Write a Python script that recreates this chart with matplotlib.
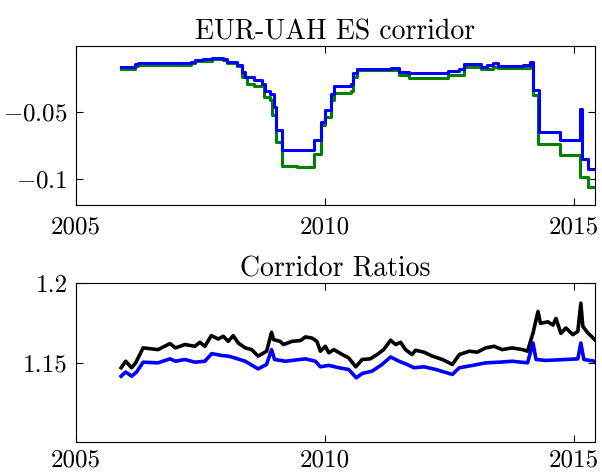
import matplotlib
matplotlib.use("Agg")
import matplotlib.pyplot as plt

plt.rcParams['font.family'] = ['cmr10', 'DejaVu Serif']
plt.rcParams['mathtext.fontset'] = 'cm'
plt.rcParams['axes.unicode_minus'] = True

# top panel: ES corridor (step series)
t_green = [2005.91, 2006.18, 2006.25, 2007.32, 2007.39, 2007.73, 2007.96, 2008.03, 2008.23,
           2008.33, 2008.43, 2008.57, 2008.77, 2008.90, 2008.94, 2009.01, 2009.13, 2009.45,
           2009.78, 2009.93, 2010.01, 2010.13, 2010.18, 2010.52, 2010.56, 2010.65, 2011.49,
           2011.69, 2012.47, 2012.80, 2013.14, 2013.37, 2013.47, 2014.11, 2014.17, 2014.28,
           2014.73, 2015.13, 2015.29, 2015.42]
v_green = [-0.0170, -0.0152, -0.0140, -0.0128, -0.0114, -0.0095, -0.0105, -0.0130, -0.0152,
           -0.0232, -0.0283, -0.0303, -0.0384, -0.0409, -0.0523, -0.0725, -0.0902, -0.0910,
           -0.0813, -0.0599, -0.0536, -0.0409, -0.0354, -0.0339, -0.0232, -0.0182, -0.0220,
           -0.0240, -0.0217, -0.0162, -0.0175, -0.0155, -0.0164, -0.0144, -0.0371, -0.0738,
           -0.0819, -0.0990, -0.1066, -0.1066]

t_blue = [2005.91, 2006.18, 2006.25, 2006.80, 2007.32, 2007.39, 2007.55, 2007.73, 2007.96,
          2008.03, 2008.23, 2008.33, 2008.40, 2008.57, 2008.74, 2008.80, 2008.90, 2008.97,
          2009.01, 2009.14, 2009.78, 2009.93, 2010.01, 2010.13, 2010.18, 2010.52, 2010.56,
          2010.65, 2011.32, 2011.49, 2011.69, 2012.30, 2012.47, 2012.70, 2012.80, 2013.14,
          2013.25, 2013.37, 2013.47, 2013.98, 2014.11, 2014.17, 2014.30, 2014.73, 2015.12,
          2015.16, 2015.29, 2015.42]
v_blue = [-0.0157, -0.0139, -0.0129, -0.0125, -0.0119, -0.0106, -0.0097, -0.0089, -0.0099,
          -0.0124, -0.0144, -0.0195, -0.0237, -0.0258, -0.0283, -0.0341, -0.0359, -0.0460,
          -0.0637, -0.0788, -0.0707, -0.0574, -0.0485, -0.0359, -0.0303, -0.0290, -0.0207,
          -0.0174, -0.0169, -0.0195, -0.0207, -0.0200, -0.0187, -0.0177, -0.0139, -0.0162,
          -0.0145, -0.0131, -0.0149, -0.0140, -0.0124, -0.0333, -0.0649, -0.0707, -0.0472,
          -0.0851, -0.0927, -0.0927]

# bottom panel: corridor ratios
t_ratio_k = [2005.91, 2006.00, 2006.12, 2006.20, 2006.35, 2006.65, 2006.89, 2007.00, 2007.19,
             2007.39, 2007.49, 2007.59, 2007.72, 2007.86, 2007.96, 2008.06, 2008.16, 2008.26,
             2008.40, 2008.53, 2008.66, 2008.83, 2008.93, 2008.97, 2009.10, 2009.17, 2009.34,
             2009.51, 2009.61, 2009.74, 2009.84, 2009.91, 2010.01, 2010.08, 2010.18, 2010.35,
             2010.48, 2010.62, 2010.75, 2010.91, 2011.05, 2011.18, 2011.32, 2011.42, 2011.52,
             2011.62, 2011.75, 2011.82, 2011.99, 2012.16, 2012.36, 2012.56, 2012.70, 2012.90,
             2013.06, 2013.23, 2013.40, 2013.56, 2013.76, 2013.97, 2014.07, 2014.18, 2014.28,
             2014.33, 2014.48, 2014.58, 2014.64, 2014.74, 2014.84, 2014.98, 2015.08, 2015.14,
             2015.18, 2015.28, 2015.42]
r_black = [1.1467, 1.1508, 1.1467, 1.1497, 1.1592, 1.1581, 1.1619, 1.1592, 1.1613,
           1.1602, 1.1627, 1.1602, 1.1669, 1.1648, 1.1665, 1.1633, 1.1669, 1.1623,
           1.1592, 1.1581, 1.1540, 1.1571, 1.1690, 1.1644, 1.1633, 1.1613, 1.1633,
           1.1638, 1.1661, 1.1654, 1.1633, 1.1571, 1.1602, 1.1561, 1.1581, 1.1550,
           1.1529, 1.1473, 1.1519, 1.1523, 1.1550, 1.1581, 1.1640, 1.1613, 1.1627,
           1.1581, 1.1550, 1.1577, 1.1565, 1.1540, 1.1519, 1.1488, 1.1550, 1.1571,
           1.1565, 1.1592, 1.1602, 1.1581, 1.1592, 1.1581, 1.1571, 1.1686, 1.1821,
           1.1746, 1.1756, 1.1735, 1.1777, 1.1683, 1.1717, 1.1675, 1.1696, 1.1873,
           1.1727, 1.1686, 1.1644]

t_ratio_b = [2005.91, 2006.00, 2006.12, 2006.22, 2006.35, 2006.65, 2006.89, 2007.00, 2007.19,
             2007.39, 2007.59, 2007.73, 2007.93, 2008.06, 2008.19, 2008.40, 2008.66, 2008.83,
             2008.93, 2008.99, 2009.21, 2009.61, 2009.81, 2009.91, 2010.08, 2010.28, 2010.48,
             2010.63, 2010.75, 2010.95, 2011.15, 2011.32, 2011.49, 2011.65, 2011.79, 2011.99,
             2012.23, 2012.56, 2012.70, 2012.97, 2013.23, 2013.50, 2013.76, 2014.07, 2014.18,
             2014.24, 2014.44, 2014.84, 2015.08, 2015.14, 2015.20, 2015.42]
r_blue = [1.1414, 1.1440, 1.1414, 1.1440, 1.1502, 1.1498, 1.1523, 1.1508, 1.1519,
          1.1502, 1.1508, 1.1556, 1.1544, 1.1540, 1.1529, 1.1508, 1.1460, 1.1488,
          1.1581, 1.1519, 1.1508, 1.1523, 1.1508, 1.1473, 1.1482, 1.1467, 1.1456,
          1.1404, 1.1431, 1.1446, 1.1488, 1.1535, 1.1508, 1.1488, 1.1467, 1.1473,
          1.1456, 1.1425, 1.1467, 1.1482, 1.1498, 1.1502, 1.1508, 1.1498, 1.1623,
          1.1519, 1.1513, 1.1519, 1.1523, 1.1623, 1.1519, 1.1508]

fig = plt.figure(figsize=(6.02, 4.73), dpi=100)
ax1 = fig.add_axes([0.126, 0.5666, 0.862, 0.3361])
ax2 = fig.add_axes([0.126, 0.0655, 0.862, 0.3362])

ax1.plot(t_green, v_green, color=(0, 0.5, 0), lw=2.2, drawstyle='steps-post')
ax1.plot(t_blue, v_blue, color='blue', lw=2.2, drawstyle='steps-post')
ax1.set_xlim(2005, 2015.42)
ax1.set_ylim(-0.12, 0)
ax1.set_yticks([-0.1, -0.05])
ax1.set_yticklabels([r'$-0.1$', r'$-0.05$'])
ax1.set_title('EUR-UAH ES corridor', fontsize=20, pad=5)

ax2.plot(t_ratio_k, r_black, color='black', lw=2.6)
ax2.plot(t_ratio_b, r_blue, color='blue', lw=2.6)
ax2.set_xlim(2005, 2015.42)
ax2.set_ylim(1.1, 1.2)
ax2.set_yticks([1.15, 1.2])
ax2.set_yticklabels(['1.15', '1.2'])
ax2.set_title('Corridor Ratios', fontsize=20, pad=5)

for ax in (ax1, ax2):
    ax.set_xticks([2005, 2010, 2015])
    ax.set_xticklabels(['2005', '2010', '2015'])
    ax.tick_params(direction='in', top=True, right=True, length=5, width=0.8,
                   labelsize=18, pad=6)
    for s in ax.spines.values():
        s.set_linewidth(0.8)
ax1.tick_params(axis='x', pad=8)
ax2.tick_params(axis='x', pad=5)

fig.savefig('out.png', dpi=100)
